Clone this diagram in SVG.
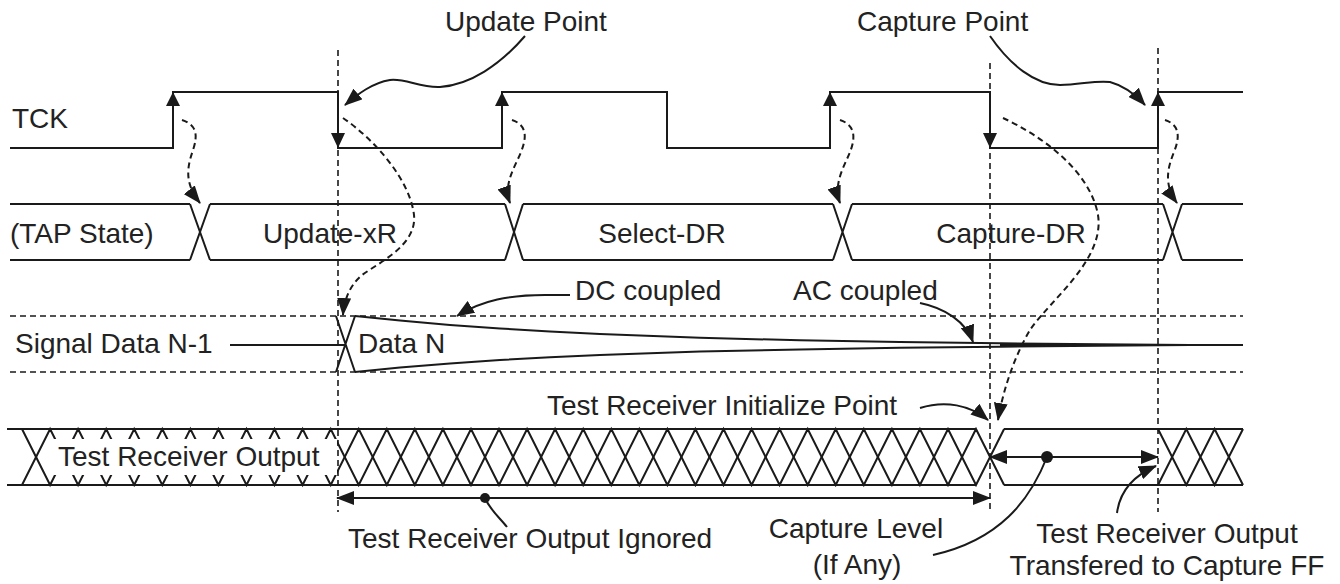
<svg xmlns="http://www.w3.org/2000/svg" width="1340" height="584" viewBox="0 0 1340 584">
<style>
text{font-family:"Liberation Sans",Arial,sans-serif;font-size:28px;fill:#222}
.ln{fill:none;stroke:#1a1a1a;stroke-width:2}
.dl{fill:none;stroke:#1a1a1a;stroke-width:1.6;stroke-dasharray:6 4}
.dc{fill:none;stroke:#1a1a1a;stroke-width:2;stroke-dasharray:6 4}
.ld{fill:none;stroke:#1a1a1a;stroke-width:2;marker-end:url(#ah)}
.ea{fill:#1a1a1a}
.mid{text-anchor:middle}
</style>
<defs>
<marker id="ah" viewBox="0 0 18 14" refX="17" refY="7" markerWidth="18" markerHeight="14" markerUnits="userSpaceOnUse" orient="auto-start-reverse">
<path d="M0,0 L18,7 L0,14 z" fill="#1a1a1a"/>
</marker>
</defs>
<rect width="1340" height="584" fill="#fff"/>

<g id="tck">
<text x="12" y="128">TCK</text>
<path class="ln" d="M10,148 H173 V92 H338 V148 H502 V92 H667 V148 H830 V92 H990 V148 H1158 V92 H1243"/>
<polygon class="ea" points="173,92 166,106 180,106"/>
<polygon class="ea" points="502,92 495,106 509,106"/>
<polygon class="ea" points="830,92 823,106 837,106"/>
<polygon class="ea" points="1158,92 1151,106 1165,106"/>
<polygon class="ea" points="338,148 331,133 345,133"/>
<polygon class="ea" points="990,148 983,133 997,133"/>
</g>

<g id="tap-state">
<path class="ln" d="M10,204 H190 M210,204 H505 M523,204 H833 M852,204 H1163 M1182,204 H1243 M10,260 H190 M210,260 H505 M523,260 H833 M852,260 H1163 M1182,260 H1243 M190,204 L210,260 M210,204 L190,260 M505,204 L523,260 M523,204 L505,260 M833,204 L852,260 M852,204 L833,260 M1163,204 L1182,260 M1182,204 L1163,260"/>
<text x="10" y="243">(TAP State)</text>
<text class="mid" x="330" y="243">Update-xR</text>
<text class="mid" x="662" y="243">Select-DR</text>
<text class="mid" x="1011" y="243">Capture-DR</text>
</g>

<g id="signal">
<path class="dl" d="M10,316 H1243 M10,372 H1243"/>
<path class="ln" d="M230,345 H346 M336,316 L355,372 M355,316 L336,372 M1000,345 H1243"/>
<polyline class="ln" points="355,316 400,320.5 450,325 500,328.5 550,331.5 600,334 700,337.8 800,340.3 900,342 1000,343.3 1100,344.3 1190,345"/>
<polyline class="ln" points="355,372 400,367.5 450,363.5 500,360 550,357.3 600,355 700,351.6 800,349.4 900,347.8 1000,346.7 1100,345.7 1190,345"/>
<text x="15" y="353">Signal Data N-1</text>
<text x="358" y="353">Data N</text>
</g>

<g id="test-receiver">
<path class="ln" d="M22,429 L50.1,485 L78.1,429 L106.2,485 L134.2,429 L162.3,485 L190.4,429 L218.4,485 L246.5,429 L274.5,485 L302.6,429 L330.7,485 L358.7,429 L386.8,485 L414.8,429 L442.9,485 L471,429 L499,485 L527.1,429 L555.1,485 L583.2,429 L611.3,485 L639.3,429 L667.4,485 L695.4,429 L723.5,485 L751.6,429 L779.6,485 L807.7,429 L835.7,485 L863.8,429 L891.9,485 L919.9,429 L948,485 L976,429 L1004.1,485"/>
<path class="ln" d="M22,485 L50.1,429 L78.1,485 L106.2,429 L134.2,485 L162.3,429 L190.4,485 L218.4,429 L246.5,485 L274.5,429 L302.6,485 L330.7,429 L358.7,485 L386.8,429 L414.8,485 L442.9,429 L471,485 L499,429 L527.1,485 L555.1,429 L583.2,485 L611.3,429 L639.3,485 L667.4,429 L695.4,485 L723.5,429 L751.6,485 L779.6,429 L807.7,485 L835.7,429 L863.8,485 L891.9,429 L919.9,485 L948,429 L976,485 L1004.1,429"/>
<path class="ln" d="M1158,429 L1186.3,485 L1214.6,429 L1243,485 M1158,485 L1186.3,429 L1214.6,485 L1243,429"/>
<path class="ln" d="M7,429 H976 M1004,429 H1243 M7,485 H976 M1004,485 H1243"/>
<rect x="48" y="439" width="289" height="36" fill="#fff"/>
<text x="58" y="466">Test Receiver Output</text>
</g>

<g id="labels">
<text x="445" y="31">Update Point</text>
<text x="857" y="31">Capture Point</text>
<text x="575" y="300">DC coupled</text>
<text x="793" y="300">AC coupled</text>
<text x="547" y="415">Test Receiver Initialize Point</text>
<text x="348" y="548">Test Receiver Output Ignored</text>
<text class="mid" x="856" y="538">Capture Level</text>
<text class="mid" x="857" y="574">(If Any)</text>
<text class="mid" x="1167" y="543">Test Receiver Output</text>
<text class="mid" x="1167" y="575">Transfered to Capture FF</text>
</g>

<g id="connectors">
<path class="dl" d="M338,50 V512 M990,63 V512 M1158,48 V512"/>
<path class="ld" d="M525,36 C500,65 470,85 440,87 C420,88 405,78 390,80 C372,83 358,94 345,105"/>
<path class="ld" d="M990,36 C1010,65 1035,85 1060,85 C1080,85 1095,80 1110,82 C1125,86 1136,95 1145,105"/>
<path class="ld" d="M570,295 L545,295 C510,295 482,300 457,316"/>
<path class="ld" d="M920,303 C945,308 966,322 973,342"/>
<path class="ld" d="M920,408 C945,400 970,405 988,420"/>
<path class="dc" marker-end="url(#ah)" d="M182,120 C197,125 198,135 193,150 C188,165 183,182 200,203"/>
<path class="dc" marker-end="url(#ah)" d="M512,120 C527,125 527,137 521,152 C515,167 503,184 510,203"/>
<path class="dc" marker-end="url(#ah)" d="M840,120 C855,125 856,137 850,152 C844,167 833,184 840,203"/>
<path class="dc" marker-end="url(#ah)" d="M1165,120 C1180,125 1180,137 1174,152 C1168,167 1163,184 1177,203"/>
<path class="dc" marker-end="url(#ah)" d="M343,118 C375,140 410,180 414,215 C417,245 380,262 362,275 C350,285 344,300 343,315"/>
<path class="dc" marker-end="url(#ah)" d="M1003,118 C1040,135 1090,170 1098,215 C1105,260 1050,300 1030,330 C1015,355 1003,390 998,420"/>
<path class="ln" marker-start="url(#ah)" marker-end="url(#ah)" d="M337,498 H990"/>
<circle cx="485" cy="498" r="5" fill="#1a1a1a"/>
<path class="ln" d="M485,498 C490,510 500,518 507,527"/>
<path class="ln" marker-start="url(#ah)" marker-end="url(#ah)" d="M990,457 H1158"/>
<circle cx="1047" cy="457" r="6" fill="#1a1a1a"/>
<path class="ln" d="M1047,457 C1030,500 1000,540 933,555"/>
<path class="ld" d="M1117,513 C1120,490 1135,475 1156,466"/>
</g>
</svg>
